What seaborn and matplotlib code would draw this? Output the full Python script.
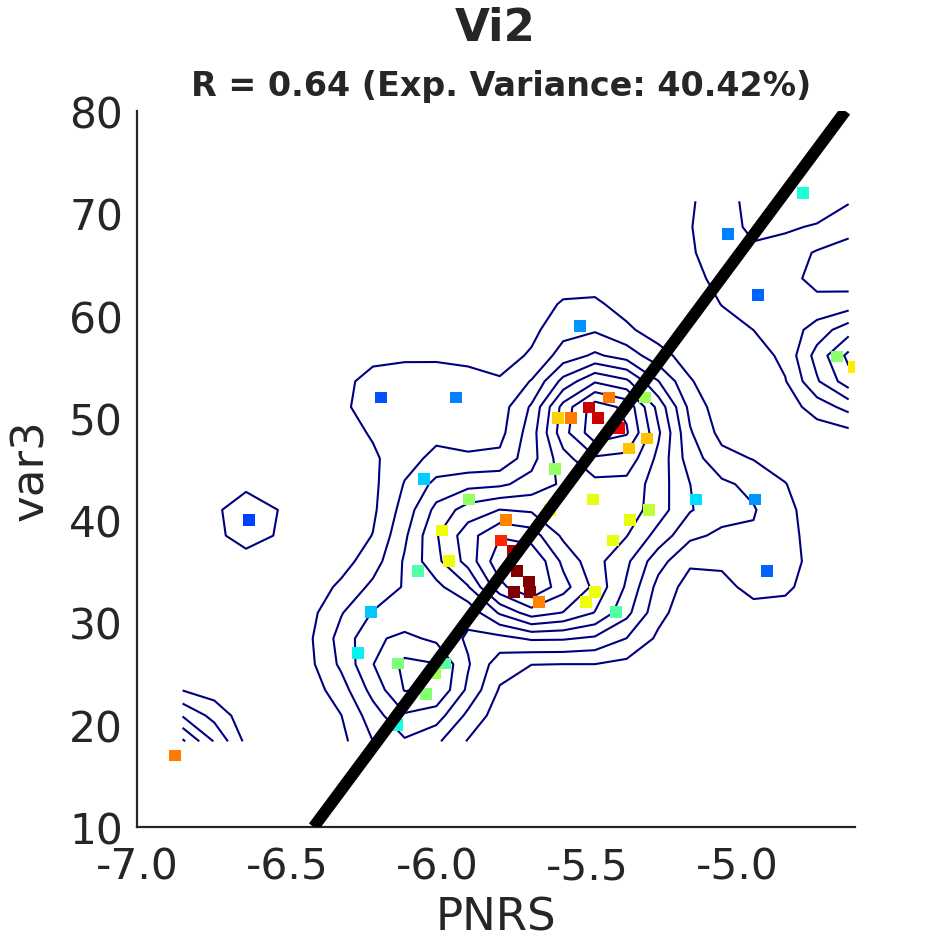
import numpy as np
import pandas as pd
import matplotlib
matplotlib.use("Agg")
import matplotlib.pyplot as plt
import seaborn as sns

# ---- data ----
pnrs = [-6.873, -6.627, -6.187, -5.937, -6.043, -5.893, -5.983, -5.960, -6.063,
        -6.220, -6.263, -6.130, -5.973, -6.007, -6.037, -6.133, -5.523, -4.930,
        -5.030, -4.780, -4.667, -4.610, -5.427, -5.307, -5.493, -5.463, -5.597,
        -5.553, -5.393, -5.300, -5.360, -5.607, -5.480, -5.137, -4.940, -5.293,
        -5.357, -5.770, -5.413, -5.787, -4.900, -5.623, -5.747, -5.733, -5.693,
        -5.743, -5.690, -5.660, -5.473, -5.503, -5.403]
var3 = [17, 40, 52, 52, 44, 42, 39, 36, 35,
        31, 27, 26, 26, 25, 23, 20, 59, 62,
        68, 72, 56, 55, 52, 52, 51, 50, 50,
        50, 49, 48, 47, 45, 42, 42, 42, 41,
        40, 40, 38, 38, 35, 41, 37, 35, 34,
        33, 33, 32, 33, 32, 31]
density = [0.78, 0.19, 0.21, 0.25, 0.325, 0.53, 0.64, 0.64, 0.45,
           0.32, 0.36, 0.50, 0.46, 0.54, 0.51, 0.375, 0.27, 0.225,
           0.25, 0.39, 0.52, 0.66, 0.78, 0.54, 0.935, 0.93, 0.69,
           0.78, 0.905, 0.70, 0.70, 0.53, 0.625, 0.34, 0.27, 0.58,
           0.63, 0.77, 0.63, 0.87, 0.22, 0.64, 0.95, 1.0, 1.0,
           1.0, 1.0, 0.77, 0.64, 0.64, 0.45]
x_ticks = [-7.0, -6.5, -6.0, -5.5, -5.0]
y_ticks = [10, 20, 30, 40, 50, 60, 70, 80]
title = "Vi2"
subtitle = "R = 0.64 (Exp. Variance: 40.42%)"

df = pd.DataFrame({"PNRS": pnrs, "var3": var3, "density": density})

sns.set_style("white")
plt.rcParams["font.family"] = ["DejaVu Sans"]

fig = plt.figure(figsize=(9.45, 9.45), dpi=100)
ax = fig.add_axes([137/945, 1-828/945, (855-137)/945, (828-112)/945])
XLIM = (-7.0, -4.607)
YLIM = (10, 80)

# ---- kernel density (reflected at the data bounding box) for contours ----
px = np.asarray(pnrs, float)
py = np.asarray(var3, float)
x0, x1 = px.min(), px.max()
y0, y1 = py.min(), py.max()
bw_x, bw_y = 0.12, 3.4
RX = np.concatenate([np.tile(c, 3) for c in (px, 2 * x0 - px, 2 * x1 - px)])
RY = np.concatenate([np.concatenate([py, 2 * y0 - py, 2 * y1 - py])] * 3)
gx = np.linspace(x0 + 0.011 * (x1 - x0), x1 - 0.008 * (x1 - x0), 22)
gy = np.linspace(y0 + 0.025 * (y1 - y0), y1 - 0.015 * (y1 - y0), 22)
GX, GY = np.meshgrid(gx, gy)
Z = np.zeros_like(GX)
for a, b in zip(RX, RY):
    Z += np.exp(-0.5 * (((GX - a) / bw_x) ** 2 + ((GY - b) / bw_y) ** 2))
zmax = Z.max()
levels = zmax * np.arange(1, 9) / 9.0
ax.contour(GX, GY, Z, levels=levels, colors="#00007f", linewidths=1.5,
           zorder=2)

sns.scatterplot(data=df, x="PNRS", y="var3", hue="density",
                palette=matplotlib.colormaps["jet"],
                hue_norm=(0, 1), marker="s", s=70, linewidth=0, ax=ax,
                legend=False, zorder=3)

# regression line (PNRS regressed on var3, drawn across the y-range)
slope, intercept = np.polyfit(py, px, 1)
line_y = np.array(YLIM, float)
line_x = slope * line_y + intercept
sns.lineplot(x=line_x, y=line_y, sort=False, estimator=None, color="black",
             linewidth=8.5, ax=ax, zorder=4, solid_capstyle="butt")

ax.set_xlim(*XLIM)
ax.set_ylim(*YLIM)
ax.set_xticks(x_ticks)
ax.set_xticklabels([f"{t:.1f}" for t in x_ticks])
ax.set_yticks(y_ticks)
ax.tick_params(direction="in", length=6, width=1.4, labelsize=30.5,
               colors="#262626")
ax.tick_params(axis="x", pad=13)
ax.tick_params(axis="y", pad=10)
for s in ["top", "right"]:
    ax.spines[s].set_visible(False)
for s in ["left", "bottom"]:
    ax.spines[s].set_color("#262626")
    ax.spines[s].set_linewidth(1.6)
ax.set_xlabel("PNRS", fontsize=32.5, color="#262626", labelpad=6)
ax.set_ylabel("var3", fontsize=32.5, color="#262626", labelpad=12)

fig.text(0.524, 0.970, title, ha="center", va="center", fontsize=32.5,
         fontweight="bold")
fig.text(0.530, 0.908, subtitle, ha="center", va="center", fontsize=24,
         fontweight="bold")

fig.savefig("out.png", dpi=100)
